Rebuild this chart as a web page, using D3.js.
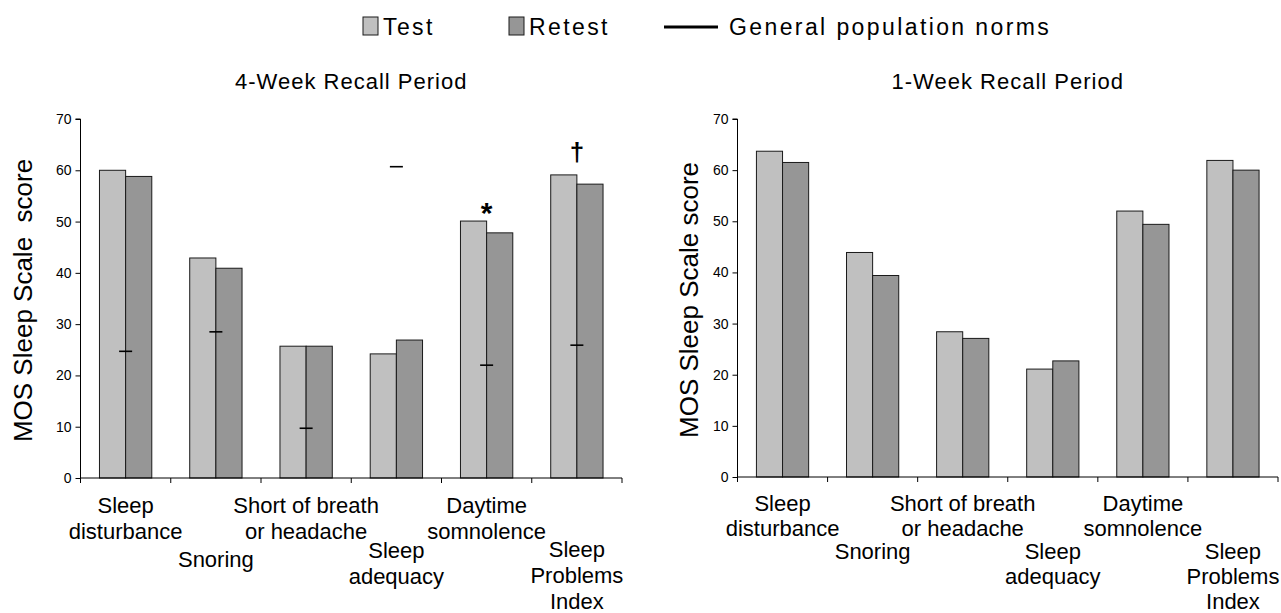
<!DOCTYPE html>
<html>
<head>
<meta charset="utf-8">
<script src="https://cdn.jsdelivr.net/npm/d3@7"></script>
<style>
  html, body { margin: 0; padding: 0; background: #fff; }
  svg { display: block; font-family: "Liberation Sans", Arial, Helvetica, sans-serif; }
</style>
</head>
<body>
<svg id="chart" width="1281" height="613"></svg>
<script>
// ---------------- DATA ----------------
const categories = [
  ["Sleep", "disturbance"],
  ["Snoring"],
  ["Short of breath", "or headache"],
  ["Sleep", "adequacy"],
  ["Daytime", "somnolence"],
  ["Sleep", "Problems", "Index"]
];
const seriesNames = ["Test", "Retest"];
const normName = "General population norms";

const week4Test   = [60.0, 42.9, 25.7, 24.2, 50.1, 59.1];
const week4Retest = [58.8, 40.9, 25.7, 26.9, 47.8, 57.3];
const week4Norms  = [24.7, 28.5, 9.7, 60.7, 22.0, 25.9];
const week4Marks  = [null, null, null, null, "*", "\u2020"];
const week4MarkValues = [null, null, null, null, 51.4, 63.6];

const week1Test   = [63.7, 43.9, 28.4, 21.1, 52.0, 61.9];
const week1Retest = [61.5, 39.4, 27.1, 22.7, 49.4, 60.0];

const yTicks = [0, 10, 20, 30, 40, 50, 60, 70];
const titles = ["4-Week Recall Period", "1-Week Recall Period"];
const yLabels = ["MOS Sleep Scale  score", "MOS Sleep Scale score"];

// ---------------- LAYOUT ----------------
const svg = d3.select("#chart");
const FONT = '"Liberation Sans", Arial, Helvetica, sans-serif';
const colors = { Test: "#c0c0c0", Retest: "#969696" };
const markFont = { "*": 30, "\u2020": 26 };

const panels = [
  { x0: 80.5, x1: 622, y0: 478, y1: 119, title: titles[0], ylab: yLabels[0], ylabX: 32,
    test: week4Test, retest: week4Retest, norms: week4Norms, marks: week4Marks, markVals: week4MarkValues,
    labelStart: [513, 567, 513, 558, 513, 557], lineH: 26 },
  { x0: 737.5, x1: 1278, y0: 477, y1: 119, title: titles[1], ylab: yLabels[1], ylabX: 698,
    test: week1Test, retest: week1Retest, norms: null, marks: null, markVals: null,
    labelStart: [511, 559, 511, 559, 511, 559], lineH: 25 }
];

panels.forEach(p => {
  const g = svg.append("g");
  const idx = d3.range(categories.length);
  const x = d3.scaleBand().domain(idx).range([p.x0, p.x1]).padding(0);
  const xs = d3.scaleBand().domain(seriesNames).range([0, x.bandwidth()])
               .paddingInner(0).paddingOuter(0.725);
  const y = d3.scaleLinear().domain([0, 70]).range([p.y0, p.y1]);

  // bars
  const rows = idx.map(i => ({ i, vals: [{ s: "Test", v: p.test[i] }, { s: "Retest", v: p.retest[i] }] }));
  const grp = g.selectAll("g.cat").data(rows).enter().append("g")
    .attr("transform", d => `translate(${x(d.i)},0)`);
  grp.selectAll("rect").data(d => d.vals).enter().append("rect")
    .attr("x", d => xs(d.s))
    .attr("width", xs.bandwidth())
    .attr("y", d => y(d.v))
    .attr("height", d => y(0) - y(d.v))
    .attr("fill", d => colors[d.s])
    .attr("stroke", "#1a1a1a")
    .attr("stroke-width", 1);

  // y axis
  const yAxis = d3.axisLeft(y).tickValues(yTicks).tickSize(5).tickPadding(4);
  const ya = g.append("g").attr("transform", `translate(${p.x0},0)`).call(yAxis);
  ya.select(".domain").attr("stroke", "#000").attr("d", `M-5,${y(70)}H0V${y(0)}`);
  ya.selectAll(".tick line").attr("stroke", "#000");
  ya.selectAll(".tick text").attr("font-family", FONT).attr("font-size", 14).attr("fill", "#000");

  // x axis with boundary ticks
  const bounds = idx.map(i => x(i)).concat([p.x1]);
  g.append("line").attr("x1", p.x0).attr("x2", p.x1).attr("y1", y(0)).attr("y2", y(0))
    .attr("stroke", "#000");
  g.selectAll("line.xt").data(bounds).enter().append("line")
    .attr("x1", d => d).attr("x2", d => d).attr("y1", y(0)).attr("y2", y(0) + 5)
    .attr("stroke", "#000");

  // category labels
  idx.forEach(i => {
    const t = g.append("text")
      .attr("text-anchor", "middle")
      .attr("font-family", FONT).attr("font-size", 22).attr("fill", "#000");
    categories[i].forEach((line, k) => {
      t.append("tspan").attr("x", x(i) + x.bandwidth() / 2)
        .attr("y", p.labelStart[i] + k * p.lineH).text(line);
    });
  });

  // norms
  if (p.norms) {
    g.selectAll("line.norm").data(idx).enter().append("line")
      .attr("x1", i => x(i) + x.bandwidth() / 2 - 6.5)
      .attr("x2", i => x(i) + x.bandwidth() / 2 + 6.5)
      .attr("y1", i => y(p.norms[i])).attr("y2", i => y(p.norms[i]))
      .attr("stroke", "#000").attr("stroke-width", 1.6);
  }
  // significance marks
  if (p.marks) {
    idx.filter(i => p.marks[i]).forEach(i => {
      g.append("text").attr("x", x(i) + x.bandwidth() / 2)
        .attr("y", y(p.markVals[i]) + 9)
        .attr("text-anchor", "middle")
        .attr("font-family", FONT).attr("font-size", markFont[p.marks[i]]).attr("font-weight", "bold")
        .text(p.marks[i]);
    });
  }

  // title
  g.append("text").attr("x", (p.x0 + p.x1) / 2).attr("y", 89)
    .attr("text-anchor", "middle").attr("font-family", FONT).attr("font-size", 22)
    .attr("letter-spacing", 1).text(p.title);

  // y label
  g.append("text")
    .attr("transform", `translate(${p.ylabX},${(y(0) + y(70)) / 2 + 2}) rotate(-90)`)
    .attr("text-anchor", "middle").attr("font-family", FONT).attr("font-size", 26)
    .attr("xml:space", "preserve").style("white-space", "pre")
    .text(p.ylab);
});

// legend
const leg = svg.append("g").attr("font-family", FONT).attr("font-size", 23).attr("letter-spacing", 2.4);
const legItems = [
  { type: "box", name: seriesNames[0], color: colors.Test, bx: 363, tx: 383 },
  { type: "box", name: seriesNames[1], color: colors.Retest, bx: 509, tx: 529 },
  { type: "line", name: normName, bx: 664, tx: 729 }
];
legItems.forEach(it => {
  if (it.type === "box") {
    leg.append("rect").attr("x", it.bx).attr("y", 17).attr("width", 15).attr("height", 18)
      .attr("fill", it.color).attr("stroke", "#1a1a1a").attr("stroke-width", 1);
  } else {
    leg.append("line").attr("x1", it.bx).attr("x2", it.bx + 54).attr("y1", 27).attr("y2", 27)
      .attr("stroke", "#000").attr("stroke-width", 3);
  }
  leg.append("text").attr("x", it.tx).attr("y", 35).text(it.name);
});
</script>
</body>
</html>
